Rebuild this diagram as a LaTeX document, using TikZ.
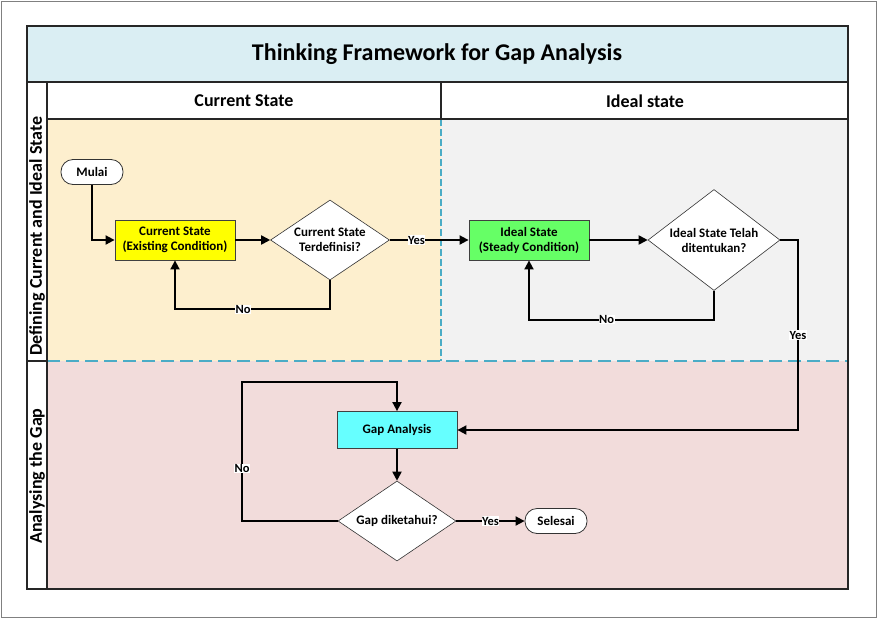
\documentclass[tikz,border=0pt]{standalone}
\usepackage{fontspec}
\setmainfont{Carlito}
\usetikzlibrary{arrows.meta,shapes.geometric}
\definecolor{titleblue}{RGB}{218,238,243}
\definecolor{curlane}{RGB}{253,239,206}
\definecolor{ideallane}{RGB}{242,242,242}
\definecolor{gaplane}{RGB}{242,220,219}
\definecolor{lanedash}{RGB}{75,172,198}
\definecolor{curyellow}{RGB}{255,255,0}
\definecolor{idealgreen}{RGB}{102,255,102}
\definecolor{gapcyan}{RGB}{102,255,255}
\tikzset{frame/.style={draw=black!85, line width=1.4pt}}
\tikzset{process/.style={draw=black!75, line width=0.8pt, minimum width=120pt, minimum height=40pt, inner sep=0pt, align=center, font=\bfseries\fontsize{13}{15}\selectfont}}
\tikzset{decision/.style={diamond, aspect=1.5, draw=black!80, fill=white, line width=0.6pt, inner sep=0pt, align=center, font=\bfseries\fontsize{13}{15}\selectfont}}
\tikzset{terminal/.style={draw=black!80, fill=white, line width=0.8pt, rounded corners=12pt, minimum width=62pt, minimum height=25pt, inner sep=0pt, font=\bfseries\fontsize{13}{15}\selectfont}}
\tikzset{flow/.style={line width=1.8pt, -{Triangle[length=9pt,width=9pt]}}}
\tikzset{lbl/.style={fill=white, inner sep=0.5pt, font=\bfseries\fontsize{12.5}{14}\selectfont}}

\begin{document}
\begin{tikzpicture}[x=1pt, y=-1pt]
\useasboundingbox (0,0) rectangle (878,619);
\draw [gray, line width=1pt] (1,1) rectangle (876,617);
% lanes
\fill [curlane] (47,119) rectangle (441,361);
\fill [ideallane] (441,119) rectangle (848,361);
\fill [gaplane] (47,361) rectangle (848,589);
\draw [lanedash, line width=1.2pt, dash pattern=on 7pt off 3pt] (441,119) -- (441,361);
\draw [lanedash, line width=2pt, dash pattern=on 13pt off 6pt] (47,361) -- (848,361);
% title and headers
\draw [frame, fill=titleblue] (27,26) rectangle (848,82);
\node [font=\bfseries\fontsize{24}{28}\selectfont] (title) at (437,54) {Thinking Framework for Gap Analysis};
\draw [frame, fill=white] (47,82) rectangle (441,119);
\draw [frame, fill=white] (441,82) rectangle (848,119);
\node [font=\bfseries\fontsize{18}{22}\selectfont] (hcurrent) at (244,101) {Current State};
\node [font=\bfseries\fontsize{18}{22}\selectfont] (hideal) at (645,101) {Ideal state};
\draw [frame] (27,82) rectangle (47,589);
\draw [frame] (27,361) -- (47,361);
\draw [frame] (27,26) rectangle (848,589);
\node [rotate=90, font=\bfseries\fontsize{18}{22}\selectfont] (rowdefine) at (37,236) {Defining Current and Ideal State};
\node [rotate=90, font=\bfseries\fontsize{18}{22}\selectfont] (rowgap) at (37,476) {Analysing the Gap};
% flow nodes
\node [terminal] (mulai) at (92,172) {Mulai};
\node [process, fill=curyellow] (current) at (175,240) {Current State\\(Existing Condition)};
\node [decision, minimum width=119pt, minimum height=80pt] (defined) at (330,240) {Current State\\Terdefinisi?};
\node [process, fill=idealgreen] (ideal) at (529,240) {Ideal State\\(Steady Condition)};
\node [decision, aspect=1.3, minimum width=132pt, minimum height=101pt] (decided) at (714,240) {Ideal State Telah\\ditentukan?};
\node [process, minimum height=37pt, fill=gapcyan] (gap) at (397,430) {Gap Analysis};
\node [decision, minimum width=118pt, minimum height=80pt] (known) at (397,521) {Gap diketahui?};
\node [terminal] (selesai) at (556,521) {Selesai};
\coordinate (yesturn) at (798,240);
\coordinate (noturn) at (242,382);
% connectors
\draw [flow] (mulai.south) |- (current.west);
\draw [flow] (current.east) -- (defined.west);
\draw [flow] (defined.east) -- node [lbl, pos=0.34] {Yes} (ideal.west);
\draw [flow] (defined.south) -- ++(0,29) -| node [lbl, pos=0.28] {No} (current.south);
\draw [flow] (ideal.east) -- (decided.west);
\draw [flow] (decided.south) -- ++(0,29) -| node [lbl, pos=0.29] {No} (ideal.south);
\draw [flow] (decided.east) -- (yesturn) |- node [lbl, pos=0.25] {Yes} (gap.east);
\draw [flow] (gap.south) -- (known.north);
\draw [flow] (known.west) -| node [lbl, pos=0.69] {No} (noturn) -| (gap.north);
\draw [flow] (known.east) -- node [lbl] {Yes} (selesai.west);
\end{tikzpicture}
\end{document}
